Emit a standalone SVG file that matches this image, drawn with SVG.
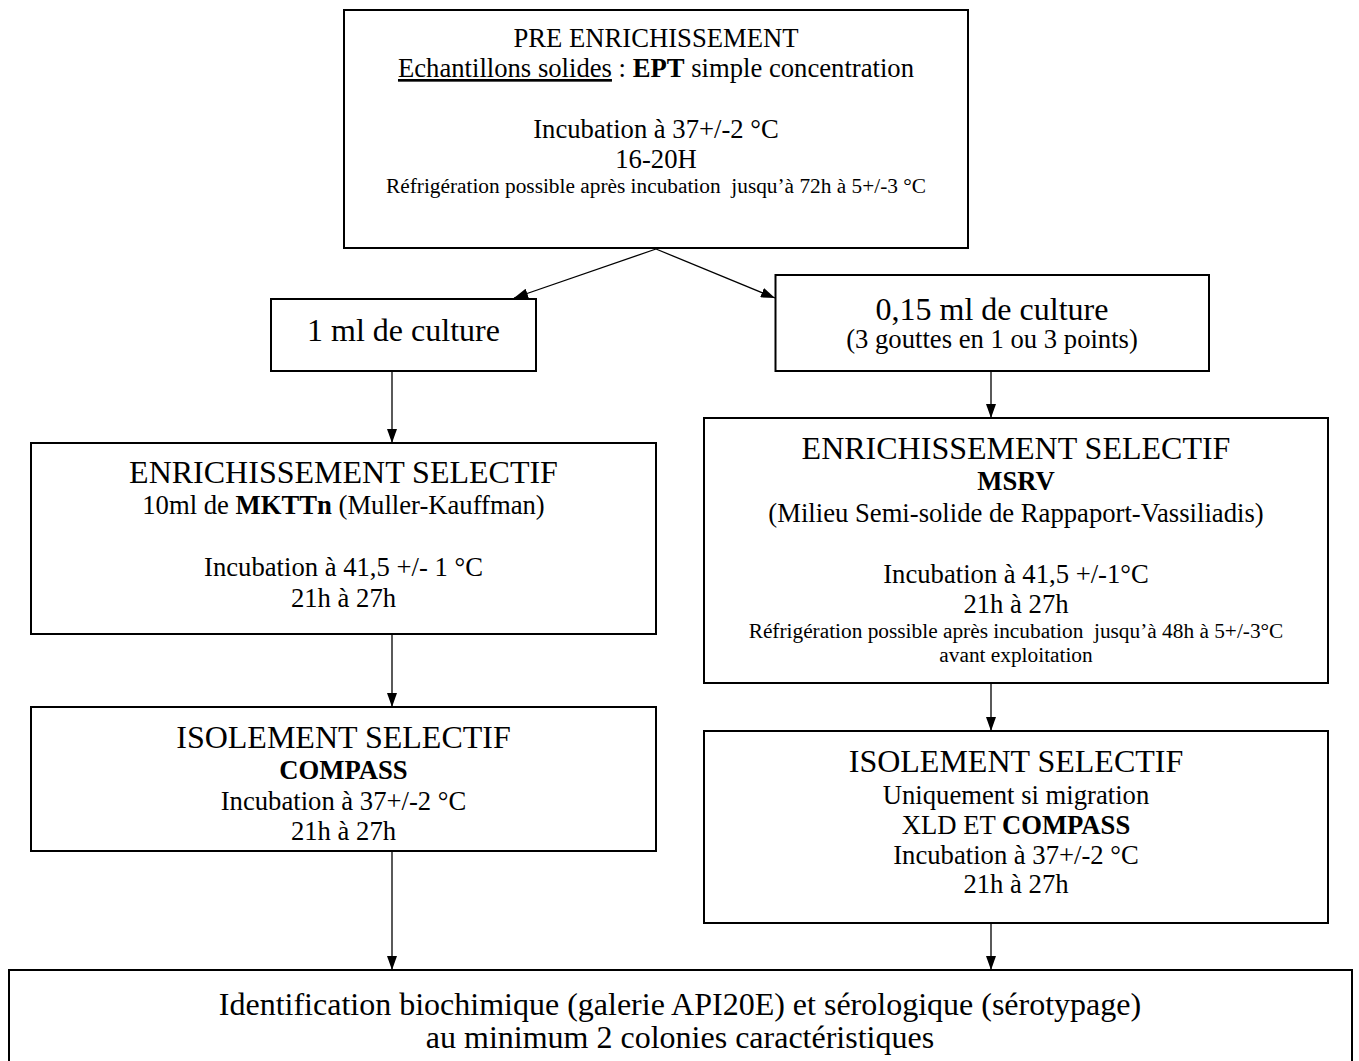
<svg xmlns="http://www.w3.org/2000/svg" width="1359" height="1061" viewBox="0 0 1359 1061">
<defs>
<style>
.box{fill:#fff;stroke:#000;stroke-width:2}
.t{font-family:"Liberation Serif","Times New Roman",serif;fill:#000;text-anchor:middle;white-space:pre}
.h{font-size:32px}
.n{font-size:26.67px}
.s{font-size:21.33px}
.b{font-weight:bold}
.c line{stroke:#000;stroke-width:1.3;marker-end:url(#arr)}
</style>
<marker id="arr" markerUnits="userSpaceOnUse" markerWidth="14" markerHeight="10" refX="14" refY="5" orient="auto">
<path d="M0,0 L14,5 L0,10 z" fill="#000"/>
</marker>
</defs>
<rect width="1359" height="1061" fill="#fff"/>

<g id="connectors" class="c">
<line x1="656" y1="249" x2="514" y2="298"/>
<line x1="656" y1="249" x2="775" y2="298"/>
<line x1="392" y1="372" x2="392" y2="443"/>
<line x1="392" y1="635" x2="392" y2="707"/>
<line x1="392" y1="852" x2="392" y2="970"/>
<line x1="991" y1="372" x2="991" y2="418"/>
<line x1="991" y1="684" x2="991" y2="731"/>
<line x1="991" y1="924" x2="991" y2="970"/>
</g>

<g id="pre-enrichissement">
<rect class="box" x="344" y="10" width="624" height="238"/>
<text class="t n" x="656" y="47">PRE ENRICHISSEMENT</text>
<text class="t n" x="656" y="77"><tspan text-decoration="underline">Echantillons solides</tspan> : <tspan class="b">EPT</tspan> simple concentration</text>
<text class="t n" x="656" y="138">Incubation à 37+/-2 °C</text>
<text class="t n" x="656" y="168">16-20H</text>
<text class="t s" x="656" y="193">Réfrigération possible après incubation  jusqu’à 72h à 5+/-3 °C</text>
</g>

<g id="culture-1ml">
<rect class="box" x="271" y="299" width="265" height="72"/>
<text class="t h" x="403.5" y="341">1 ml de culture</text>
</g>

<g id="culture-015ml">
<rect class="box" x="775.5" y="275" width="433.5" height="96"/>
<text class="t h" x="992" y="320">0,15 ml de culture</text>
<text class="t n" x="992" y="348">(3 gouttes en 1 ou 3 points)</text>
</g>

<g id="enrichissement-mkttn">
<rect class="box" x="31" y="443" width="625" height="191"/>
<text class="t h" x="343.5" y="483">ENRICHISSEMENT SELECTIF</text>
<text class="t n" x="343.5" y="514">10ml de <tspan class="b">MKTTn</tspan> (Muller-Kauffman)</text>
<text class="t n" x="343.5" y="576">Incubation à 41,5 +/- 1 °C</text>
<text class="t n" x="343.5" y="607">21h à 27h</text>
</g>

<g id="enrichissement-msrv">
<rect class="box" x="704" y="418" width="624" height="265"/>
<text class="t h" x="1016" y="459">ENRICHISSEMENT SELECTIF</text>
<text class="t n b" x="1016" y="490">MSRV</text>
<text class="t n" x="1016" y="522">(Milieu Semi-solide de Rappaport-Vassiliadis)</text>
<text class="t n" x="1016" y="583">Incubation à 41,5 +/-1°C</text>
<text class="t n" x="1016" y="613">21h à 27h</text>
<text class="t s" x="1016" y="638">Réfrigération possible après incubation  jusqu’à 48h à 5+/-3°C</text>
<text class="t s" x="1016" y="662">avant exploitation</text>
</g>

<g id="isolement-left">
<rect class="box" x="31" y="707" width="625" height="144"/>
<text class="t h" x="343.5" y="748">ISOLEMENT SELECTIF</text>
<text class="t n b" x="343.5" y="779">COMPASS</text>
<text class="t n" x="343.5" y="810">Incubation à 37+/-2 °C</text>
<text class="t n" x="343.5" y="840">21h à 27h</text>
</g>

<g id="isolement-right">
<rect class="box" x="704" y="731" width="624" height="192"/>
<text class="t h" x="1016" y="772">ISOLEMENT SELECTIF</text>
<text class="t n" x="1016" y="804">Uniquement si migration</text>
<text class="t n" x="1016" y="834">XLD ET <tspan class="b">COMPASS</tspan></text>
<text class="t n" x="1016" y="864">Incubation à 37+/-2 °C</text>
<text class="t n" x="1016" y="893">21h à 27h</text>
</g>

<g id="identification">
<rect class="box" x="9" y="970" width="1343" height="120"/>
<text class="t h" x="680" y="1015">Identification biochimique (galerie API20E) et sérologique (sérotypage)</text>
<text class="t h" x="680" y="1048">au minimum 2 colonies caractéristiques</text>
</g>
</svg>
